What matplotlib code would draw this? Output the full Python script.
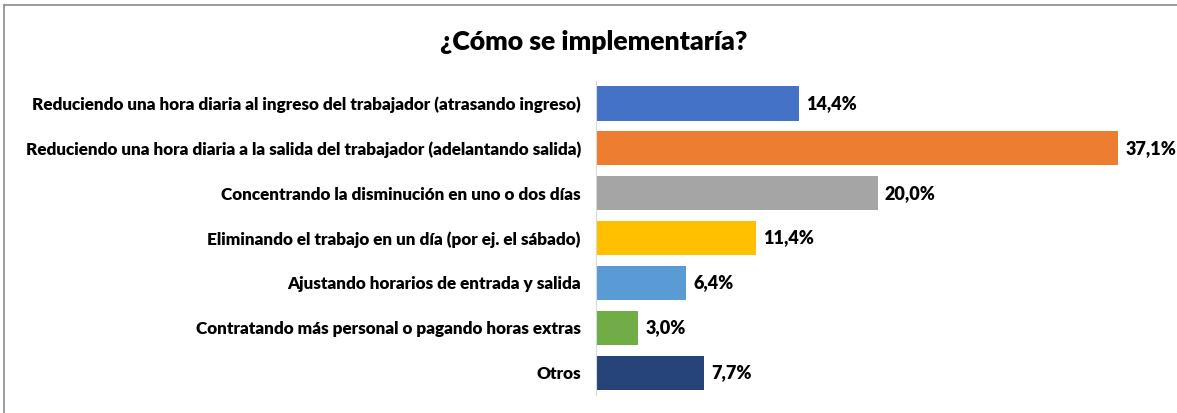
import matplotlib
matplotlib.use("Agg")
import matplotlib.pyplot as plt
from matplotlib.lines import Line2D

plt.rcParams['font.family'] = ['Lato', 'DejaVu Sans']

categories = [
    "Reduciendo una hora diaria al ingreso del trabajador (atrasando ingreso)",
    "Reduciendo una hora diaria a la salida del trabajador (adelantando salida)",
    "Concentrando la disminución en uno o dos días",
    "Eliminando el trabajo en un día (por ej. el sábado)",
    "Ajustando horarios de entrada y salida",
    "Contratando más personal o pagando horas extras",
    "Otros",
]
values = [14.4, 37.1, 20.0, 11.4, 6.4, 3.0, 7.7]
colors = ["#4472C4", "#ED7D31", "#A5A5A5", "#FFC000", "#5B9BD5", "#70AD47", "#264478"]

fig = plt.figure(figsize=(11.77, 4.13), dpi=100)
ax = fig.add_axes([0.5064, 0.0436, 0.4783, 0.760])

y = list(range(len(categories)))
ax.barh(y, values, height=0.76, color=colors)
ax.set_ylim(len(categories) - 0.5, -0.5)
ax.set_xlim(0, 40)

for yi, v in zip(y, values):
    ax.annotate(f"{v:.1f}%".replace(".", ","), (v, yi), xytext=(5, 0),
                textcoords="offset points", va="center", ha="left",
                fontsize=13, fontweight="heavy")

ax.set_yticks(y)
ax.set_yticklabels(categories, fontsize=12.3, fontweight="heavy")
ax.tick_params(axis="y", length=0, pad=11)
ax.set_xticks([])
for s in ["top", "right", "bottom"]:
    ax.spines[s].set_visible(False)
ax.spines["left"].set_color("#D9D9D9")

fig.text(0.504, 0.898, "¿Cómo se implementaría?", ha="center", va="center",
         fontsize=19.2, fontweight="heavy")

# chart border
fig.add_artist(Line2D([0.0034, 1.0], [0.988, 0.988], color="#8C8C8C", lw=1.2))
fig.add_artist(Line2D([0.0034, 0.0034], [0.0, 0.988], color="#8C8C8C", lw=1.2))

fig.savefig("out.png", dpi=100)
